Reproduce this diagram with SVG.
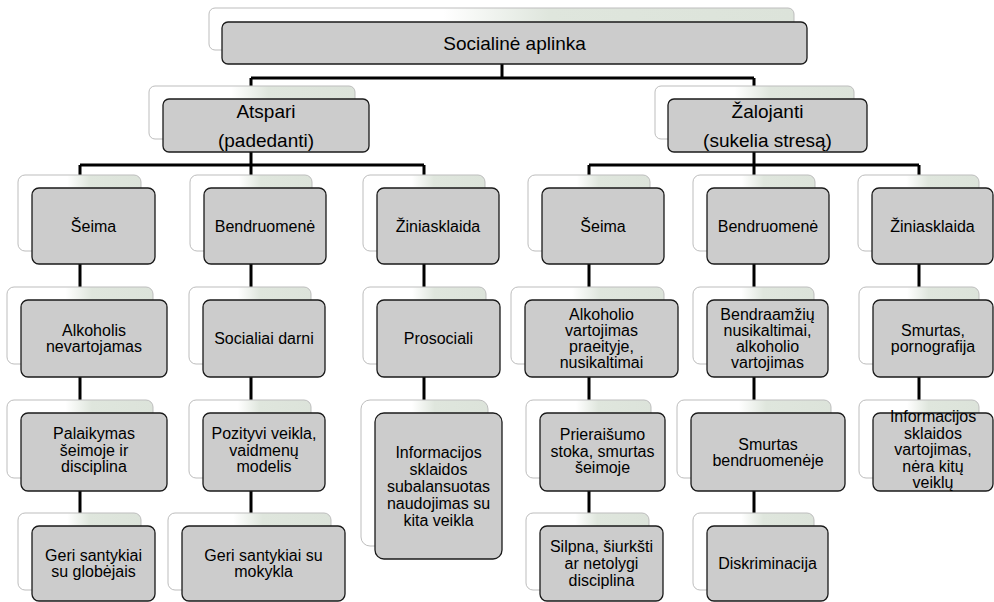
<svg xmlns="http://www.w3.org/2000/svg" width="994" height="602" viewBox="0 0 994 602">
<defs>
<linearGradient id="bg" x1="0" y1="0" x2="1" y2="0">
<stop offset="0" stop-color="#ffffff"/>
<stop offset="0.4" stop-color="#ffffff"/>
<stop offset="0.58" stop-color="#dfe6dd"/>
<stop offset="1" stop-color="#dce3da"/>
</linearGradient>
</defs>
<style>
.back{fill:url(#bg);stroke:#bdbdbd;stroke-width:1}
.front{fill:#cccccc;stroke:#1a1a1a;stroke-width:1.3}
.t{font-family:"Liberation Sans",Arial,sans-serif;font-size:16px;text-anchor:middle;fill:#000}
.big{font-size:19px}
.conn{stroke:#000;stroke-width:3;fill:none}
</style>
<rect width="994" height="602" fill="#ffffff"/>
<g id="connectors" class="conn">
<path d="M502,64 V78 M251,78 H754 M251,78 V99 M754,78 V99"/>
<path d="M251,152 V165 M80,165 H424 M80,165 V188 M251,165 V188 M424,165 V188"/>
<path d="M754,152 V165 M589,165 H919 M589,165 V188 M754,165 V188 M919,165 V188"/>
<path d="M80,264 V300 M251,264 V300 M424,264 V300 M589,264 V300 M754,264 V300 M919,264 V300"/>
<path d="M80,377 V413 M251,377 V413 M424,377 V413 M589,377 V413 M754,377 V413 M919,377 V413"/>
<path d="M80,491 V526 M251,491 V526 M589,491 V526 M754,491 V526"/>
</g>
<g id="n0"><rect class="back" x="209" y="8" width="585" height="42" rx="6"/><rect class="front" x="222" y="22" width="585" height="42" rx="6"/><text class="t big" x="514.5" y="50">Socialinė aplinka</text></g>
<g id="n1"><rect class="back" x="149" y="86" width="206" height="53" rx="6"/><rect class="front" x="163" y="99" width="206" height="53" rx="6"/><text class="t big" x="266" y="118">Atspari</text><text class="t big" x="266" y="147">(padedanti)</text></g>
<g id="n2"><rect class="back" x="655" y="86" width="199" height="53" rx="6"/><rect class="front" x="668" y="99" width="199" height="53" rx="6"/><text class="t big" x="767.5" y="118">Žalojanti</text><text class="t big" x="767.5" y="147">(sukelia stresą)</text></g>

<g id="n3"><rect class="back" x="18" y="175" width="123" height="76" rx="7"/><rect class="front" x="32" y="188" width="123" height="76" rx="7"/><text class="t" x="93.5" y="232">Šeima</text></g>
<g id="n4"><rect class="back" x="190" y="175" width="122" height="76" rx="7"/><rect class="front" x="204" y="188" width="122" height="76" rx="7"/><text class="t" x="265" y="232">Bendruomenė</text></g>
<g id="n5"><rect class="back" x="363" y="175" width="122" height="76" rx="7"/><rect class="front" x="377" y="188" width="122" height="76" rx="7"/><text class="t" x="438" y="232">Žiniasklaida</text></g>
<g id="n6"><rect class="back" x="528" y="175" width="122" height="76" rx="7"/><rect class="front" x="542" y="188" width="122" height="76" rx="7"/><text class="t" x="603" y="232">Šeima</text></g>
<g id="n7"><rect class="back" x="693" y="175" width="122" height="76" rx="7"/><rect class="front" x="707" y="188" width="122" height="76" rx="7"/><text class="t" x="768" y="232">Bendruomenė</text></g>
<g id="n8"><rect class="back" x="858" y="175" width="121" height="76" rx="7"/><rect class="front" x="872" y="188" width="121" height="76" rx="7"/><text class="t" x="932.5" y="232">Žiniasklaida</text></g>

<g id="n9"><rect class="back" x="7" y="287" width="146" height="77" rx="7"/><rect class="front" x="21" y="300" width="146" height="77" rx="7"/><text class="t" x="94" y="336">Alkoholis</text><text class="t" x="94" y="352">nevartojamas</text></g>
<g id="n10"><rect class="back" x="189" y="287" width="122" height="77" rx="7"/><rect class="front" x="203" y="300" width="122" height="77" rx="7"/><text class="t" x="264" y="344">Socialiai darni</text></g>
<g id="n11"><rect class="back" x="363" y="287" width="123" height="77" rx="7"/><rect class="front" x="377" y="300" width="123" height="77" rx="7"/><text class="t" x="438.5" y="344">Prosociali</text></g>
<g id="n12"><rect class="back" x="511" y="287" width="153" height="77" rx="7"/><rect class="front" x="525" y="300" width="153" height="77" rx="7"/><text class="t" x="601.5" y="320">Alkoholio</text><text class="t" x="601.5" y="336">vartojimas</text><text class="t" x="601.5" y="352">praeityje,</text><text class="t" x="601.5" y="368">nusikaltimai</text></g>
<g id="n13"><rect class="back" x="693" y="287" width="121" height="77" rx="7"/><rect class="front" x="707" y="300" width="121" height="77" rx="7"/><text class="t" x="767.5" y="320">Bendraamžių</text><text class="t" x="767.5" y="336">nusikaltimai,</text><text class="t" x="767.5" y="352">alkoholio</text><text class="t" x="767.5" y="368">vartojimas</text></g>
<g id="n14"><rect class="back" x="859" y="287" width="120" height="77" rx="7"/><rect class="front" x="873" y="300" width="120" height="77" rx="7"/><text class="t" x="933" y="336">Smurtas,</text><text class="t" x="933" y="352">pornografija</text></g>

<g id="n15"><rect class="back" x="7" y="400" width="146" height="78" rx="7"/><rect class="front" x="21" y="413" width="146" height="78" rx="7"/><text class="t" x="94" y="439">Palaikymas</text><text class="t" x="94" y="455.5">šeimoje ir</text><text class="t" x="94" y="472">disciplina</text></g>
<g id="n16"><rect class="back" x="189" y="400" width="122" height="78" rx="7"/><rect class="front" x="203" y="413" width="122" height="78" rx="7"/><text class="t" x="264" y="439">Pozityvi veikla,</text><text class="t" x="264" y="455.5">vaidmenų</text><text class="t" x="264" y="472">modelis</text></g>
<g id="n17"><rect class="back" x="361" y="400" width="127" height="146" rx="9"/><rect class="front" x="375" y="413" width="127" height="146" rx="9"/><text class="t" x="438.5" y="458">Informacijos</text><text class="t" x="438.5" y="475">sklaidos</text><text class="t" x="438.5" y="492">subalansuotas</text><text class="t" x="438.5" y="509">naudojimas su</text><text class="t" x="438.5" y="526">kita veikla</text></g>
<g id="n18"><rect class="back" x="526" y="400" width="125" height="78" rx="7"/><rect class="front" x="540" y="413" width="125" height="78" rx="7"/><text class="t" x="602.5" y="440">Prieraišumo</text><text class="t" x="602.5" y="456.5">stoka, smurtas</text><text class="t" x="602.5" y="473">šeimoje</text></g>
<g id="n19"><rect class="back" x="677" y="400" width="154" height="78" rx="7"/><rect class="front" x="691" y="413" width="154" height="78" rx="7"/><text class="t" x="768" y="450">Smurtas</text><text class="t" x="768" y="466">bendruomenėje</text></g>
<g id="n20"><rect class="back" x="859" y="400" width="120" height="78" rx="7"/><rect class="front" x="873" y="413" width="120" height="78" rx="7"/><text class="t" x="933" y="422">Informacijos</text><text class="t" x="933" y="438.5">sklaidos</text><text class="t" x="933" y="455">vartojimas,</text><text class="t" x="933" y="471.5">nėra kitų</text><text class="t" x="933" y="488">veiklų</text></g>

<g id="n21"><rect class="back" x="18" y="513" width="123" height="77" rx="7"/><rect class="front" x="32" y="526" width="123" height="75" rx="7"/><text class="t" x="93.5" y="561">Geri santykiai</text><text class="t" x="93.5" y="577">su globėjais</text></g>
<g id="n22"><rect class="back" x="168" y="513" width="163" height="77" rx="7"/><rect class="front" x="182" y="526" width="163" height="75" rx="7"/><text class="t" x="263.5" y="561">Geri santykiai su</text><text class="t" x="263.5" y="577">mokykla</text></g>
<g id="n23"><rect class="back" x="526" y="513" width="123" height="77" rx="7"/><rect class="front" x="540" y="526" width="123" height="75" rx="7"/><text class="t" x="601.5" y="552">Silpna, šiurkšti</text><text class="t" x="601.5" y="569">ar netolygi</text><text class="t" x="601.5" y="586">disciplina</text></g>
<g id="n24"><rect class="back" x="693" y="513" width="121" height="77" rx="7"/><rect class="front" x="707" y="526" width="121" height="75" rx="7"/><text class="t" x="767.5" y="569">Diskriminacija</text></g>
</svg>
